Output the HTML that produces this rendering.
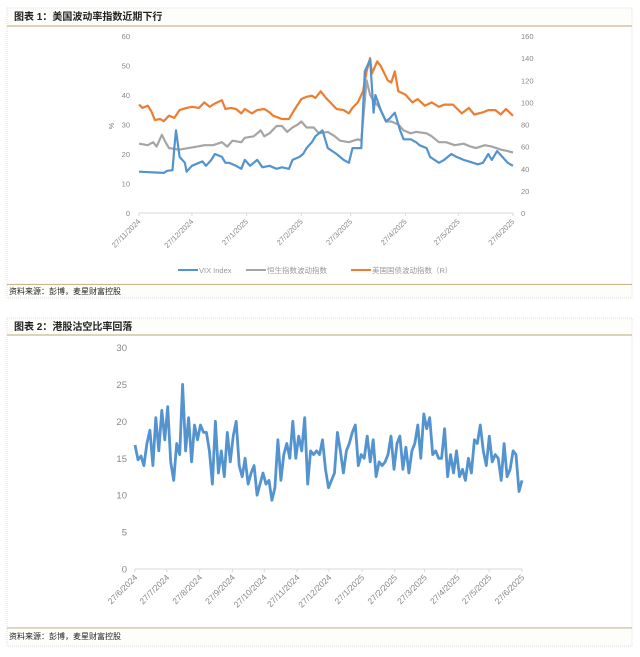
<!DOCTYPE html>
<html><head><meta charset="utf-8"><style>
html,body{margin:0;padding:0;background:#fff;}
svg{display:block;font-family:"Liberation Sans","Noto Sans CJK SC",sans-serif;}
</style></head><body>
<svg id="s" width="640" height="657" viewBox="0 0 640 657" xmlns="http://www.w3.org/2000/svg">
<g>
<rect x="7" y="8" width="625" height="290" fill="#fff" stroke="#ddd" stroke-dasharray="1,1"/>
<rect x="7.5" y="8.5" width="624" height="17" fill="#fdfdfa"/>
<line x1="7" y1="26" x2="632" y2="26" stroke="#c9b88f" stroke-width="1.2"/>
<text x="14" y="20" font-size="10" font-weight="bold" fill="#222">图表 1：美国波动率指数近期下行</text>
<line x1="7" y1="284.5" x2="632" y2="284.5" stroke="#c9b88f" stroke-width="1.2"/>
<rect x="7.5" y="285" width="624" height="12" fill="#fdfdfa"/>
<text x="9" y="294" font-size="8" fill="#222">资料来源：彭博，麦星财富控股</text>
<text x="114" y="126" font-size="7" fill="#777" transform="rotate(-90 114 126)" text-anchor="middle">%</text>
</g>
<g>
<rect x="7" y="318" width="625" height="328" fill="#fff" stroke="#ddd" stroke-dasharray="1,1"/>
<rect x="7.5" y="318.5" width="624" height="17" fill="#fdfdfa"/>
<line x1="7" y1="335" x2="632" y2="335" stroke="#c9b88f" stroke-width="1.2"/>
<text x="14" y="330" font-size="10" font-weight="bold" fill="#222">图表 2：港股沽空比率回落</text>
<line x1="7" y1="628" x2="632" y2="628" stroke="#c9b88f" stroke-width="1.2"/>
<rect x="7.5" y="628.5" width="624" height="17" fill="#fdfdfa"/>
<text x="9" y="639" font-size="8" fill="#222">资料来源：彭博，麦星财富控股</text>
</g>
<g id="c1"></g>
<g id="c2"></g>
</svg>
<script>
// ---- Chart 1 data ----
const c1TickDays = [0,30,61,92,120,151,181,212];
const c1TickLabels = ["27/11/2024","27/12/2024","27/1/2025","27/2/2025","27/3/2025","27/4/2025","27/5/2025","27/6/2025"];
const c1LeftTicks = [0,10,20,30,40,50,60];
const c1RightTicks = [0,20,40,60,80,100,120,140,160];
const vixDays = [0,14,16,19,20,21,23,26,27,30,34,36,38,41,43,47,49,51,55,58,60,63,67,70,74,78,81,85,87,91,93,95,98,100,104,107,112,116,119,121,124,126,128,131,133,134,137,140,142,145,148,150,154,157,159,163,165,170,173,177,180,184,187,192,195,198,200,203,206,209,212];
const vixVals = [14,13.6,14.3,14.5,22,28,19,17,14,16,17,17.5,16,18,20,19,17,17,16,15,18,16,18,15.5,16,15,15.5,15,18,19,20,22,24,26,28,22,20,18,17,22,22,22,48,52,34,40,35,31,32,34,28,25,25,24,23,22,19,17,18,20,19,18,17.5,16.5,17,20,18,21,19,17,16];
const hsiDays = [0,5,8,10,13,15,17,23,28,33,37,42,47,50,53,58,60,65,69,71,74,78,81,84,87,90,92,95,99,102,107,111,114,119,124,126,129,131,133,136,140,143,147,150,154,157,163,166,170,174,179,184,188,191,196,200,205,209,212];
const hsiVals = [23.5,23,24,22.5,26.5,24,22,21.5,22,22.5,23,23,24,22.5,24.5,24,25.5,26,28,26,27,29.5,29.5,27.5,29,30,31,29,29,27,27.5,26,24.5,24,25,24.5,45,40,38,36,31,31,30,28,27,27.5,27,26,24,24,23,23.5,22.5,22,23,22.5,21.5,21,20.5];
const ustDays = [0,2,5,7,9,12,14,17,20,23,27,30,34,37,40,43,47,49,52,55,58,60,64,67,71,74,76,81,85,88,92,95,98,100,103,106,109,112,116,119,121,124,127,129,131,132,135,137,141,143,145,147,151,155,158,162,166,170,173,178,183,187,190,195,198,202,205,208,212];
const ustVals = [98,95,97,92,84,85,83,88,86,93,95,96,95,100,96,99,102,94,95,94,90,94,90,93,94,91,88,85,85,93,103,105,106,104,110,104,99,94,93,90,95,100,110,128,140,126,137,133,120,118,128,110,107,100,103,97,100,96,98,98,90,95,89,91,93,93,89,94,88];
// ---- Chart 2 data ----
const c2TickDays = [0,30,61,92,122,153,183,214,245,273,304,334,365];
const c2TickLabels = ["27/6/2024","27/7/2024","27/8/2024","27/9/2024","27/10/2024","27/11/2024","27/12/2024","27/1/2025","27/2/2025","27/3/2025","27/4/2025","27/5/2025","27/6/2025"];
const c2YTicks = [0,5,10,15,20,25,30];
const shortVals = [16.8,14.8,15.3,14,17,18.8,14,20.5,16,21.5,17.5,22,14.5,12,17,15.5,25,16,20.5,14.5,19.5,17.5,19.5,18.5,18.5,16,11.5,20,13,16,12.5,18.5,14.5,18,20,14,12.5,15,11.5,13,14,10,11.5,13,11.5,12,9.3,11,17.5,12,15.5,17,15,20,15,18,16,20.5,11.5,16,15.5,16,15.5,17.5,13.5,11,12,13,18.5,16,13,16,17,18.5,19.5,14,15.5,15,18,14.5,17.5,12.5,14.5,14,14.5,15.5,18,13.5,17,18,13.5,16.5,13,16,17,19.5,15,21,19,20.5,15.5,16,15,15,19,12.5,15.5,13,16,12.5,13.5,12,15,13,17.5,17,19.5,16,14,18,14.5,15.5,15,12,17,12.5,13.5,16,15.5,10.5,12];

const NS = "http://www.w3.org/2000/svg";
function mk(tag, attrs, parent){const e=document.createElementNS(NS,tag);for(const k in attrs)e.setAttribute(k,attrs[k]);parent.appendChild(e);return e;}

// Chart 1
const g1 = document.getElementById('c1');
const x1 = d => 139 + d/212*374;
const yL = v => 213 - v*177/60;
const yR = v => 213 - v*177/160;
mk('line',{x1:139,y1:213,x2:513,y2:213,stroke:'#d9d9d9'},g1);
c1LeftTicks.forEach(v=>{const t=mk('text',{x:130,y:yL(v)+3,'font-size':7.5,fill:'#888','text-anchor':'end'},g1);t.textContent=v;

});
c1RightTicks.forEach(v=>{const t=mk('text',{x:521,y:yR(v)+3,'font-size':7.5,fill:'#888'},g1);t.textContent=v;

});
c1TickDays.forEach((d,i)=>{const x=x1(d);mk('line',{x1:x,y1:213,x2:x,y2:216,stroke:'#d9d9d9'},g1);
const t=mk('text',{x:x+2,y:222,'font-size':7.5,fill:'#888','text-anchor':'end',transform:`rotate(-45 ${x+2} 222)`},g1);t.textContent=c1TickLabels[i];

});
function line(g,xs,ys,fx,fy,color,w,name){const p=mk('polyline',{points:xs.map((d,i)=>fx(d).toFixed(1)+','+fy(ys[i]).toFixed(1)).join(' '),fill:'none',stroke:color,'stroke-width':w,'stroke-linejoin':'round'},g);

}
line(g1,ustDays,ustVals,x1,yR,'#ed7d31',2.2,'ust-vol-line');
line(g1,hsiDays,hsiVals,x1,yL,'#a5a5a5',2.2,'hsi-vol-line');
line(g1,vixDays,vixVals,x1,yL,'#5393cf',2.2,'vix-line');
// legend
const leg=[['VIX Index','#5393cf',178],['恒生指数波动指数','#a5a5a5',246],['美国国债波动指数（R）','#ed7d31',351]];
leg.forEach(l=>{const gg=mk('g',{},g1);


mk('line',{x1:l[2],y1:270,x2:l[2]+20,y2:270,stroke:l[1],'stroke-width':2},gg);
const t=mk('text',{x:l[2]+21,y:273,'font-size':7.5,fill:'#999'},gg);t.textContent=l[0];});

// Chart 2
const g2=document.getElementById('c2');
const x2=d=>135+d/365*387;
const y2=v=>569 - v*221.5/30;
mk('line',{x1:135,y1:569,x2:522,y2:569,stroke:'#d9d9d9'},g2);
c2YTicks.forEach(v=>{const t=mk('text',{x:127,y:y2(v)+3.5,'font-size':9.5,fill:'#888','text-anchor':'end'},g2);t.textContent=v;

});
c2TickDays.forEach((d,i)=>{const x=x2(d);mk('line',{x1:x,y1:569,x2:x,y2:572,stroke:'#d9d9d9'},g2);
const t=mk('text',{x:x+3,y:578,'font-size':8.5,fill:'#888','text-anchor':'end',transform:`rotate(-45 ${x+3} 578)`},g2);t.textContent=c2TickLabels[i];

});
const c2Idx = shortVals.map((v,i)=>i*365/(shortVals.length-1));
line(g2,c2Idx,shortVals,x2,y2,'#5393cf',2.8,'short-ratio-line');
</script>
</body></html>
